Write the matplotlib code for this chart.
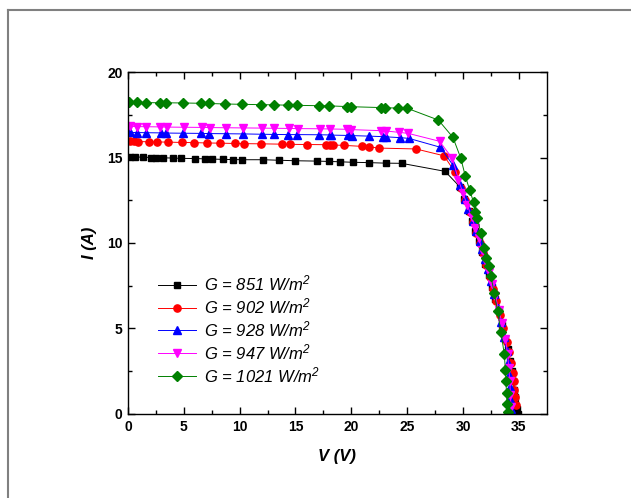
import matplotlib
matplotlib.use('Agg')
import matplotlib.pyplot as plt
from matplotlib.lines import Line2D

plt.rcParams['font.family'] = ['Liberation Sans', 'DejaVu Sans']
plt.rcParams['mathtext.fontset'] = 'custom'
plt.rcParams['mathtext.rm'] = 'Liberation Sans:italic'
plt.rcParams['mathtext.it'] = 'Liberation Sans:italic'

# I-V curves for five irradiance levels (V in volts, I in amps)
labels = ['G = 851 W/m$^2$', 'G = 902 W/m$^2$', 'G = 928 W/m$^2$',
          'G = 947 W/m$^2$', 'G = 1021 W/m$^2$']

v_851 = [0.15, 0.6, 1.3, 2.1, 2.5, 3.1, 4.0, 4.7, 6.0, 6.9, 7.5, 8.5, 9.4, 10.2, 12.1, 13.5,
         15.0, 16.9, 17.97, 18.95, 20.15, 21.6, 23.07, 24.5, 28.4,
         29.7, 30.1, 30.5, 30.8, 31.1, 31.4, 31.7, 32.0, 32.3, 32.6, 32.9, 33.2, 33.5, 33.8,
         34.0, 34.2, 34.35, 34.5, 34.6, 34.65, 34.7, 34.8, 34.95]
i_851 = [15.05, 15.03, 15.02, 15.0, 14.98, 14.98, 14.97, 14.95, 14.94, 14.92, 14.91, 14.89, 14.88,
         14.87, 14.87, 14.84, 14.81, 14.79, 14.77, 14.75, 14.72, 14.7, 14.67, 14.66, 14.19,
         13.3, 12.6, 11.9, 11.3, 10.7, 10.1, 9.5, 8.8, 8.1, 7.4, 6.7, 6.0, 5.2, 4.4,
         3.8, 3.1, 2.5, 1.9, 1.4, 1.0, 0.6, 0.3, 0.0]

v_902 = [0.15, 0.51, 0.9, 1.9, 2.6, 3.6, 4.8, 5.9, 7.1, 8.2, 9.6, 10.4, 11.9, 13.8, 14.5, 16.0,
         17.7, 18.1, 18.4, 19.3, 21.0, 21.6, 22.5, 25.8, 28.3,
         29.3, 29.8, 30.2, 30.6, 30.9, 31.2, 31.5, 31.8, 32.1, 32.4, 32.7, 33.0, 33.3, 33.6,
         33.9, 34.1, 34.3, 34.45, 34.55, 34.6, 34.65, 34.77]
i_902 = [15.95, 15.94, 15.93, 15.92, 15.91, 15.9, 15.88, 15.87, 15.85, 15.84, 15.82, 15.81, 15.8,
         15.78, 15.77, 15.76, 15.75, 15.74, 15.73, 15.71, 15.65, 15.62, 15.55, 15.5, 15.1,
         14.13, 13.2, 12.5, 11.8, 11.2, 10.6, 10.0, 9.4, 8.7, 8.0, 7.3, 6.6, 5.8, 5.0,
         4.2, 3.6, 3.0, 2.4, 1.9, 1.4, 1.0, 0.5]

v_928 = [0.15, 0.8, 1.65, 2.99, 3.4, 4.92, 6.57, 7.26, 8.75, 10.3, 12.0, 13.04, 14.3, 15.1, 17.1,
         18.06, 18.2, 19.7, 20.1, 21.6, 22.8, 23.1, 24.4, 25.15, 27.97,
         29.1, 29.7, 30.14, 30.44, 30.9, 31.2, 31.5, 31.7, 31.93, 32.2, 32.5, 32.8, 33.1, 33.4,
         33.7, 33.9, 34.05, 34.15, 34.2, 34.25, 34.3]
i_928 = [16.47, 16.46, 16.45, 16.44, 16.43, 16.42, 16.41, 16.4, 16.39, 16.38, 16.36, 16.35, 16.34,
         16.34, 16.33, 16.32, 16.31, 16.29, 16.28, 16.25, 16.22, 16.21, 16.16, 16.12, 15.6,
         14.56, 13.4, 12.6, 11.99, 11.3, 10.7, 10.13, 9.65, 9.06, 8.48, 7.8, 7.0, 6.2, 5.4,
         4.5, 3.7, 3.0, 2.3, 1.6, 0.9, 0.3]

v_947 = [0.15, 0.8, 1.65, 2.9, 3.5, 4.98, 6.66, 7.36, 8.75, 10.3, 12.0, 13.04, 14.4, 15.2, 17.15,
         18.06, 19.6, 20.0, 22.7, 23.1, 24.3, 25.1, 27.9,
         29.05, 29.6, 30.0, 30.4, 30.8, 31.1, 31.4, 31.7, 32.0, 32.3, 32.6, 32.9, 33.2, 33.5,
         33.8, 34.0, 34.1, 34.2, 34.25, 34.3]
i_947 = [16.82, 16.81, 16.8, 16.79, 16.78, 16.77, 16.76, 16.75, 16.74, 16.73, 16.72, 16.71, 16.7,
         16.69, 16.68, 16.67, 16.65, 16.63, 16.57, 16.55, 16.47, 16.41, 15.95,
         14.95, 13.7, 12.9, 12.2, 11.5, 10.9, 10.3, 9.6, 9.0, 8.3, 7.6, 6.9, 6.1, 5.3,
         4.4, 3.5, 2.7, 1.9, 1.1, 0.4]

v_1021 = [0.09, 0.8, 1.65, 2.84, 3.4, 4.92, 6.57, 7.26, 8.66, 10.24, 11.94, 13.04, 14.3, 15.1,
          17.1, 18.0, 19.6, 20.0, 22.7, 23.0, 24.2, 25.0, 27.8,
          29.1, 29.8, 30.2, 30.6, 30.95, 31.1, 31.3, 31.6, 31.9, 32.1, 32.3, 32.5, 32.8, 33.1,
          33.4, 33.7, 33.8, 33.85, 33.9, 33.95, 34.0]
i_1021 = [18.23, 18.22, 18.21, 18.2, 18.2, 18.19, 18.17, 18.16, 18.13, 18.11, 18.09, 18.08, 18.06,
          18.05, 18.03, 18.02, 17.98, 17.97, 17.92, 17.91, 17.89, 17.88, 17.19,
          16.18, 14.97, 13.94, 13.1, 12.38, 11.8, 11.46, 10.58, 9.69, 9.12, 8.67, 8.05, 7.1, 6.0,
          4.8, 3.5, 2.6, 1.9, 1.2, 0.6, 0.13]

series = [(v_851, i_851, 'black', 's', 4.6),
          (v_902, i_902, 'red', 'o', 5.2),
          (v_928, i_928, 'blue', '^', 5.6),
          (v_947, i_947, 'magenta', 'v', 5.6),
          (v_1021, i_1021, 'green', 'D', 5.0)]

fig = plt.figure(figsize=(6.31, 4.98), dpi=100)
ax = fig.add_axes([0.2029, 0.1687, 0.6635, 0.6867])

for (v, i, c, m, ms), lab in zip(series, labels):
    ax.plot(v, i, color=c, marker=m, markersize=ms, linewidth=0.7, label=lab)

ax.set_xlim(0, 37.5)
ax.set_ylim(0, 20)
ax.set_xticks([0, 5, 10, 15, 20, 25, 30, 35])
ax.set_yticks([0, 5, 10, 15, 20])
ax.set_xticks([2.5 + 5 * k for k in range(7)], minor=True)
ax.set_yticks([2.5, 7.5, 12.5, 17.5], minor=True)
ax.tick_params(which='both', direction='in', top=True, right=True, width=1.0)
ax.tick_params(which='major', length=5, labelsize=10, pad=4)
ax.tick_params(which='minor', length=3)
for lbl in ax.get_xticklabels() + ax.get_yticklabels():
    lbl.set_fontweight('bold')
for s in ax.spines.values():
    s.set_linewidth(1.0)

ax.set_xlabel('V (V)', fontsize=12, fontweight='bold', fontstyle='italic', labelpad=11)
ax.set_ylabel('I (A)', fontsize=12, fontweight='bold', fontstyle='italic', labelpad=7)

leg = ax.legend(loc='upper left', bbox_to_anchor=(0.055, 0.43), frameon=False,
                prop={'size': 12, 'style': 'italic'}, handlelength=2.3,
                labelspacing=0.18, handletextpad=0.5, borderaxespad=0)

# grey page frame
fig.add_artist(Line2D([8 / 631, 8 / 631], [0, 1 - 10 / 498], color='#808080', lw=1.5,
                      transform=fig.transFigure))
fig.add_artist(Line2D([8 / 631, 1], [1 - 10 / 498, 1 - 10 / 498], color='#808080', lw=1.5,
                      transform=fig.transFigure))

fig.savefig('out.png', dpi=100)
